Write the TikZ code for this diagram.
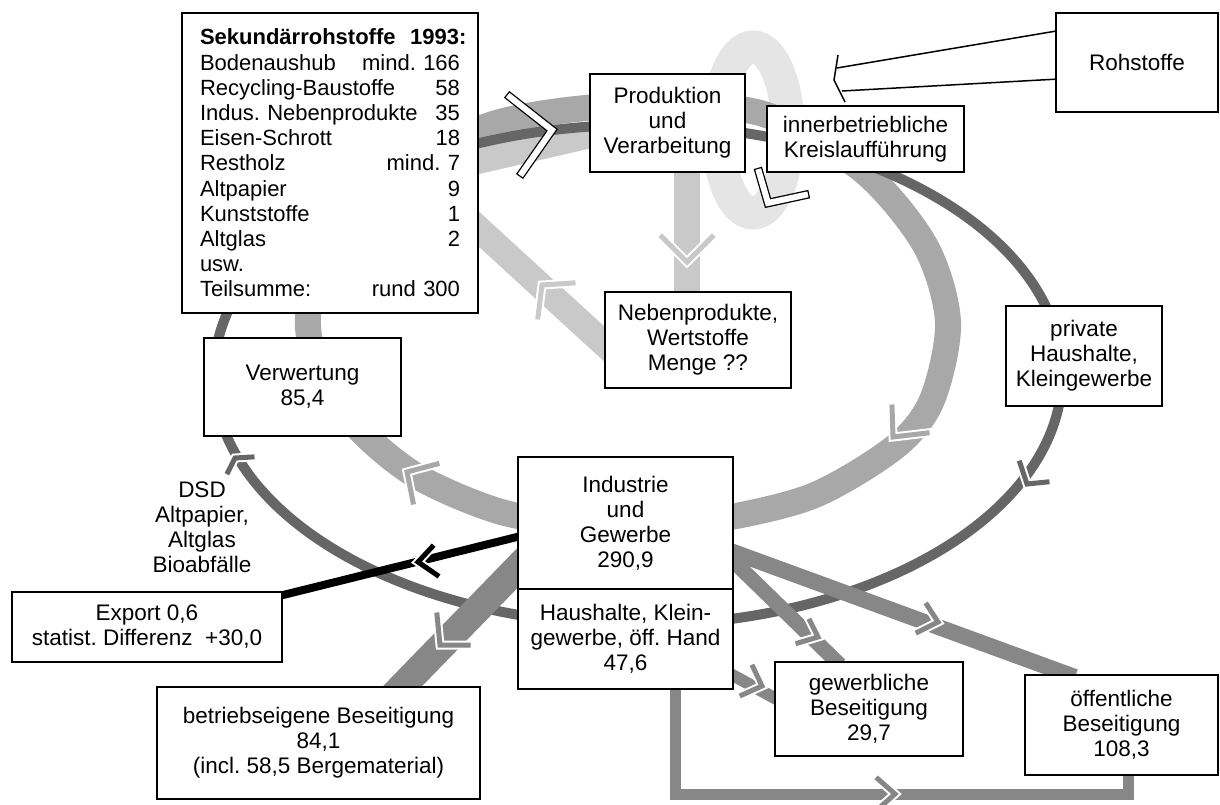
\documentclass[tikz,border=0pt]{standalone}
\usepackage{fontspec}
\setmainfont{Liberation Sans}
\usetikzlibrary{calc}
\frenchspacing
\definecolor{ringc}{gray}{0.9}
\definecolor{lightc}{gray}{0.79}
\definecolor{medc}{gray}{0.66}
\definecolor{darkc}{gray}{0.4}
\definecolor{bandc}{gray}{0.53}
\begin{document}
\begin{tikzpicture}[x=1pt,y=-1pt,
  box/.style={draw=black, line width=1.6pt, fill=white, align=center, inner sep=0pt, font=\fontsize{22.5}{25}\selectfont},
  lbl/.style={align=center, inner sep=0pt, font=\fontsize{22.5}{25}\selectfont},
  lband/.style={draw=lightc, line width=26pt},
  mband/.style={draw=medc, line width=26pt},
  dband/.style={draw=darkc, line width=10pt},
  gband/.style={draw=bandc, line width=#1, line join=miter},
  chevron/.style={draw=white, line width=2pt, double=#1, double distance=5pt, line join=miter, line cap=rect},
  ochev/.style={draw=black, line width=1.3pt, double=white, double distance=6pt, line join=miter, line cap=rect},
  rline/.style={draw=black, line width=1.5pt},
]
\useasboundingbox (0,0) rectangle (1220,805);
\fill[white] (0,0) rectangle (1220,805);

% ring of internal recycling
\draw[ringc, line width=33pt] (753,130) ellipse [x radius=35pt, y radius=83pt];

% light bands
\draw[lband] (430,172) -- (595,134);
\draw[lband] (687,165) -- (687,295);
\draw[lband] (470,221) -- (625,363);

% medium loop
\draw[mband] plot[smooth cycle] coordinates {(628,105) (760,113) (862,170) (925,245) (948,322) (932,400) (895,447) (810,497) (700,522) (600,525) (505,513) (420,478) (362,432) (320,375) (308,315) (330,240) (395,170) (500,122)};

% dark loop
\draw[dband] (638,375) ellipse [x radius=424pt, y radius=250pt];

% bands from Industrie / Haushalte
\draw[gband=28pt] (530,555) -- (392,697);
\draw[line width=8pt] (525,535) -- (275,597);
\draw[gband=16pt] (725,549) -- (1075,677);
\draw[gband=15pt] (725,553) -- (840,665);
\draw[gband=12pt] (725,671) -- (780,701);
\draw[gband=11pt] (675,680) -- (675,794) -- (1128,794) -- (1128,770);

% chevrons
\draw[chevron=lightc] (662,237) -- (687,262) -- (712,237);
\draw[chevron=lightc] (538,317) -- (542,285) -- (573,283);
\draw[chevron=medc] (413,502) -- (407,472) -- (437,464);
\draw[chevron=medc] (892,407) -- (893,437) -- (927,433);
\draw[chevron=darkc] (228,472) -- (235,458) -- (252,457);
\draw[chevron=darkc] (1020,463) -- (1027,484) -- (1047,482);
\draw[chevron=bandc] (437,615) -- (440,645) -- (468,645);
\draw[chevron=bandc] (927,605) -- (938,622) -- (918,632);
\draw[chevron=bandc] (810,621) -- (818,637) -- (798,643);
\draw[chevron=bandc] (753,667) -- (762,686) -- (742,695);
\draw[chevron=bandc] (878,779) -- (895,794) -- (878,809);
\draw[chevron=black] (432,547) -- (418,562) -- (437,575);
\draw[ochev] (510,97) -- (552,130) -- (522,173);
\draw[ochev] (759,172) -- (768,203) -- (805,195);

% boxes
\node[box, minimum width=296pt, minimum height=300pt, text width=260pt, inner xsep=18pt, align=left, font=\fontsize{22}{25.2}\selectfont] (sek) at (330,163) {\mbox{\textbf{Sekundärrohstoffe\ \ 1993:}}\\
Bodenaushub\hfill mind. 166\\
Recycling-Baustoffe\hfill 58\\
Indus. Nebenprodukte\hfill 35\\
Eisen-Schrott\hfill 18\\
Restholz\hfill mind. 7\\
Altpapier\hfill 9\\
Kunststoffe\hfill 1\\
Altglas\hfill 2\\
usw.\\
Teilsumme:\hfill rund 300};
\node[box, minimum width=155pt, minimum height=98pt] (prod) at (667.5,123) {Produktion\\und\\Verarbeitung};
\node[box, minimum width=197pt, minimum height=66pt] (inner) at (865.5,139) {innerbetriebliche\\Kreislaufführung};
\node[box, minimum width=162pt, minimum height=99pt] (roh) at (1137,62.5) {Rohstoffe};
\node[box, minimum width=186pt, minimum height=96pt] (neben) at (698,340) {Nebenprodukte,\\Wertstoffe\\Menge ??};
\node[box, minimum width=197pt, minimum height=98pt] (verw) at (302.5,387) {Verwertung\\85,4};
\node[box, minimum width=156pt, minimum height=100pt] (priv) at (1084,356) {private\\Haushalte,\\Kleingewerbe};
\node[box, minimum width=215pt, minimum height=132pt] (ind) at (625.5,523) {Industrie\\und\\Gewerbe\\290,9};
\node[box, minimum width=215pt, minimum height=100pt] (hh) at (625.5,639) {Haushalte, Klein-\\gewerbe, öff. Hand\\47,6};
\node[box, minimum width=270pt, minimum height=70pt] (exp) at (147,627) {Export 0,6\\statist. Differenz\ \ +30,0};
\node[box, minimum width=323pt, minimum height=112pt] (betr) at (318.5,743) {betriebseigene Beseitigung\\84,1\\(incl. 58,5 Bergematerial)};
\node[box, minimum width=188pt, minimum height=94pt] (gew) at (869,709) {gewerbliche\\Beseitigung\\29,7};
\node[box, minimum width=193pt, minimum height=100pt] (oeff) at (1121.5,725) {öffentliche\\Beseitigung\\108,3};

\node[lbl] (dsd) at (202,527) {DSD\\Altpapier,\\Altglas\\Bioabfälle};

% raw material inflow
\coordinate (rA) at (837,68);
\coordinate (rB) at (842,91);
\coordinate (rT) at (838,55);
\coordinate (rM) at (834,80);
\coordinate (rE) at (845,102);
\draw[rline] ($(roh.north west)+(0,19)$) -- (rA);
\draw[rline] ($(roh.north west)+(0,67)$) -- (rB);
\draw[rline] (rT) -- (rM) -- (rE);
\end{tikzpicture}
\end{document}
